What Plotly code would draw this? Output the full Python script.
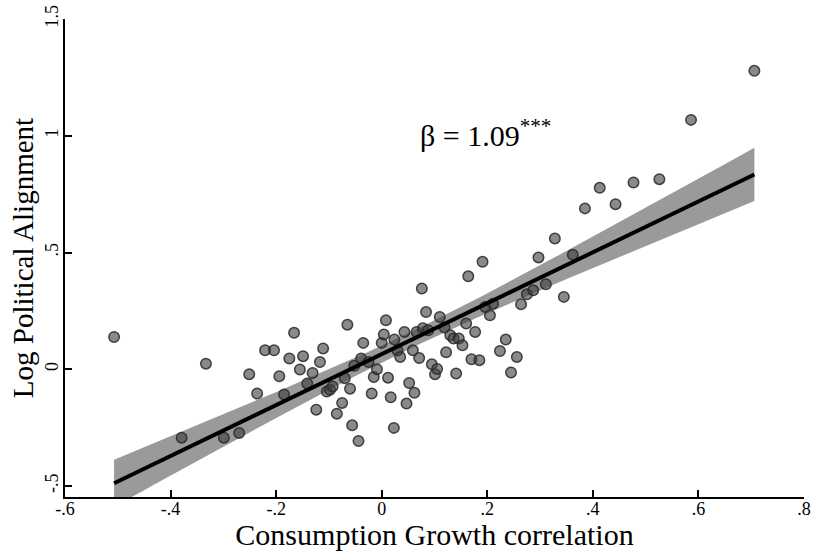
import numpy as np
import plotly.graph_objects as go

# Country-pair observations: consumption growth correlation vs. log political alignment
consumption_corr = [
    -0.507, -0.333, -0.379, -0.299, -0.270, -0.251, -0.236, -0.221, -0.204, -0.194,
    -0.185, -0.175, -0.166, -0.155, -0.149, -0.141, -0.131, -0.124, -0.117, -0.111,
    -0.104, -0.098, -0.093, -0.085, -0.075, -0.070, -0.065, -0.060, -0.056, -0.052,
    -0.044, -0.039, -0.035, -0.025, -0.019, -0.015, -0.009, 0.000, 0.004, 0.008,
    0.012, 0.017, 0.024, 0.023, 0.030, 0.035, 0.043, 0.047, 0.052, 0.059,
    0.062, 0.066, 0.071, 0.076, 0.078, 0.084, 0.088, 0.095, 0.101, 0.105,
    0.110, 0.119, 0.122, 0.130, 0.136, 0.141, 0.146, 0.153, 0.160, 0.164,
    0.170, 0.177, 0.185, 0.191, 0.196, 0.205, 0.211, 0.224, 0.235, 0.245,
    0.256, 0.264, 0.275, 0.287, 0.297, 0.311, 0.328, 0.345, 0.362, 0.385,
    0.413, 0.443, 0.477, 0.526, 0.586, 0.706,
]
log_alignment = [
    0.138, 0.024, -0.293, -0.293, -0.273, -0.021, -0.104, 0.081, 0.081, -0.030,
    -0.108, 0.046, 0.156, -0.001, 0.056, -0.061, -0.016, -0.173, 0.031, 0.089,
    -0.095, -0.088, -0.074, -0.190, -0.144, -0.038, 0.191, -0.083, -0.240, 0.015,
    -0.307, 0.046, 0.113, 0.031, -0.104, -0.033, 0.000, 0.113, 0.149, 0.210,
    -0.036, -0.120, 0.127, -0.251, 0.080, 0.053, 0.160, -0.147, -0.059, 0.081,
    -0.101, 0.160, 0.048, 0.346, 0.176, 0.245, 0.167, 0.021, -0.021, 0.001,
    0.224, 0.179, 0.073, 0.146, 0.132, -0.018, 0.132, 0.103, 0.196, 0.398,
    0.043, 0.160, 0.039, 0.460, 0.267, 0.231, 0.281, 0.078, 0.127, -0.014,
    0.053, 0.278, 0.321, 0.338, 0.479, 0.364, 0.560, 0.310, 0.490, 0.689,
    0.777, 0.707, 0.800, 0.814, 1.068, 1.278,
]

BETA = 1.09
beta_label = "β = 1.09<sup>***</sup>"

x_ticks = [-0.6, -0.4, -0.2, 0, 0.2, 0.4, 0.6, 0.8]
x_ticktext = ["-.6", "-.4", "-.2", "0", ".2", ".4", ".6", ".8"]
y_ticks = [-0.5, 0, 0.5, 1, 1.5]
y_ticktext = ["-.5", "0", ".5", "1", "1.5"]

# Fitted line with the reported slope through the sample means, plus 95% CI
x = np.array(consumption_corr)
y = np.array(log_alignment)
n = len(x)
xbar, ybar = x.mean(), y.mean()
intercept = ybar - BETA * xbar
resid = y - (intercept + BETA * x)
s = np.sqrt((resid ** 2).sum() / (n - 2))
sxx = ((x - xbar) ** 2).sum()
xf = np.linspace(x.min(), x.max(), 100)
yf = intercept + BETA * xf
half = 1.985 * s * np.sqrt(1.0 / n + (xf - xbar) ** 2 / sxx)

serif = "Liberation Serif, DejaVu Serif, serif"

fig = go.Figure()
fig.add_trace(go.Scatter(
    x=np.concatenate([xf, xf[::-1]]),
    y=np.concatenate([yf + half, (yf - half)[::-1]]),
    fill="toself", fillcolor="#9a9a9a", line=dict(width=0),
    mode="lines", hoverinfo="skip", showlegend=False,
))
fig.add_trace(go.Scatter(
    x=consumption_corr, y=log_alignment, mode="markers",
    marker=dict(size=10.5, color="rgba(60,60,60,0.6)",
                line=dict(color="rgba(40,40,40,0.85)", width=1.5)),
    showlegend=False,
))
fig.add_trace(go.Scatter(
    x=xf, y=yf, mode="lines", line=dict(color="black", width=4),
    showlegend=False,
))

fig.add_annotation(
    x=0.196, y=1.01, text=beta_label, showarrow=False,
    font=dict(family=serif, size=30, color="black"),
)

fig.update_layout(
    width=816, height=551,
    margin=dict(l=65, r=12, t=19, b=54),
    plot_bgcolor="white", paper_bgcolor="white",
    font=dict(family=serif, color="black"),
)
fig.update_xaxes(
    range=[-0.6, 0.8], tickvals=x_ticks, ticktext=x_ticktext,
    showgrid=False, zeroline=False, showline=True, linecolor="black", linewidth=1.5,
    ticks="inside", ticklen=7, tickwidth=1.5, tickcolor="black",
    tickfont=dict(size=18, family=serif), ticklabelstandoff=-5,
    title=dict(text="Consumption Growth correlation", font=dict(size=30, family=serif), standoff=0),
    automargin=False,
)
fig.update_yaxes(
    range=[-0.547, 1.5], tickvals=y_ticks, ticktext=y_ticktext, tickangle=-90,
    showgrid=False, zeroline=False, showline=True, linecolor="black", linewidth=1.5,
    ticks="inside", ticklen=7, tickwidth=1.5, tickcolor="black",
    tickfont=dict(size=18, family=serif), ticklabelstandoff=-2,
    title=dict(text="Log Political Alignment", font=dict(size=29, family=serif), standoff=0),
    automargin=False,
)

fig.write_html("out.html")
